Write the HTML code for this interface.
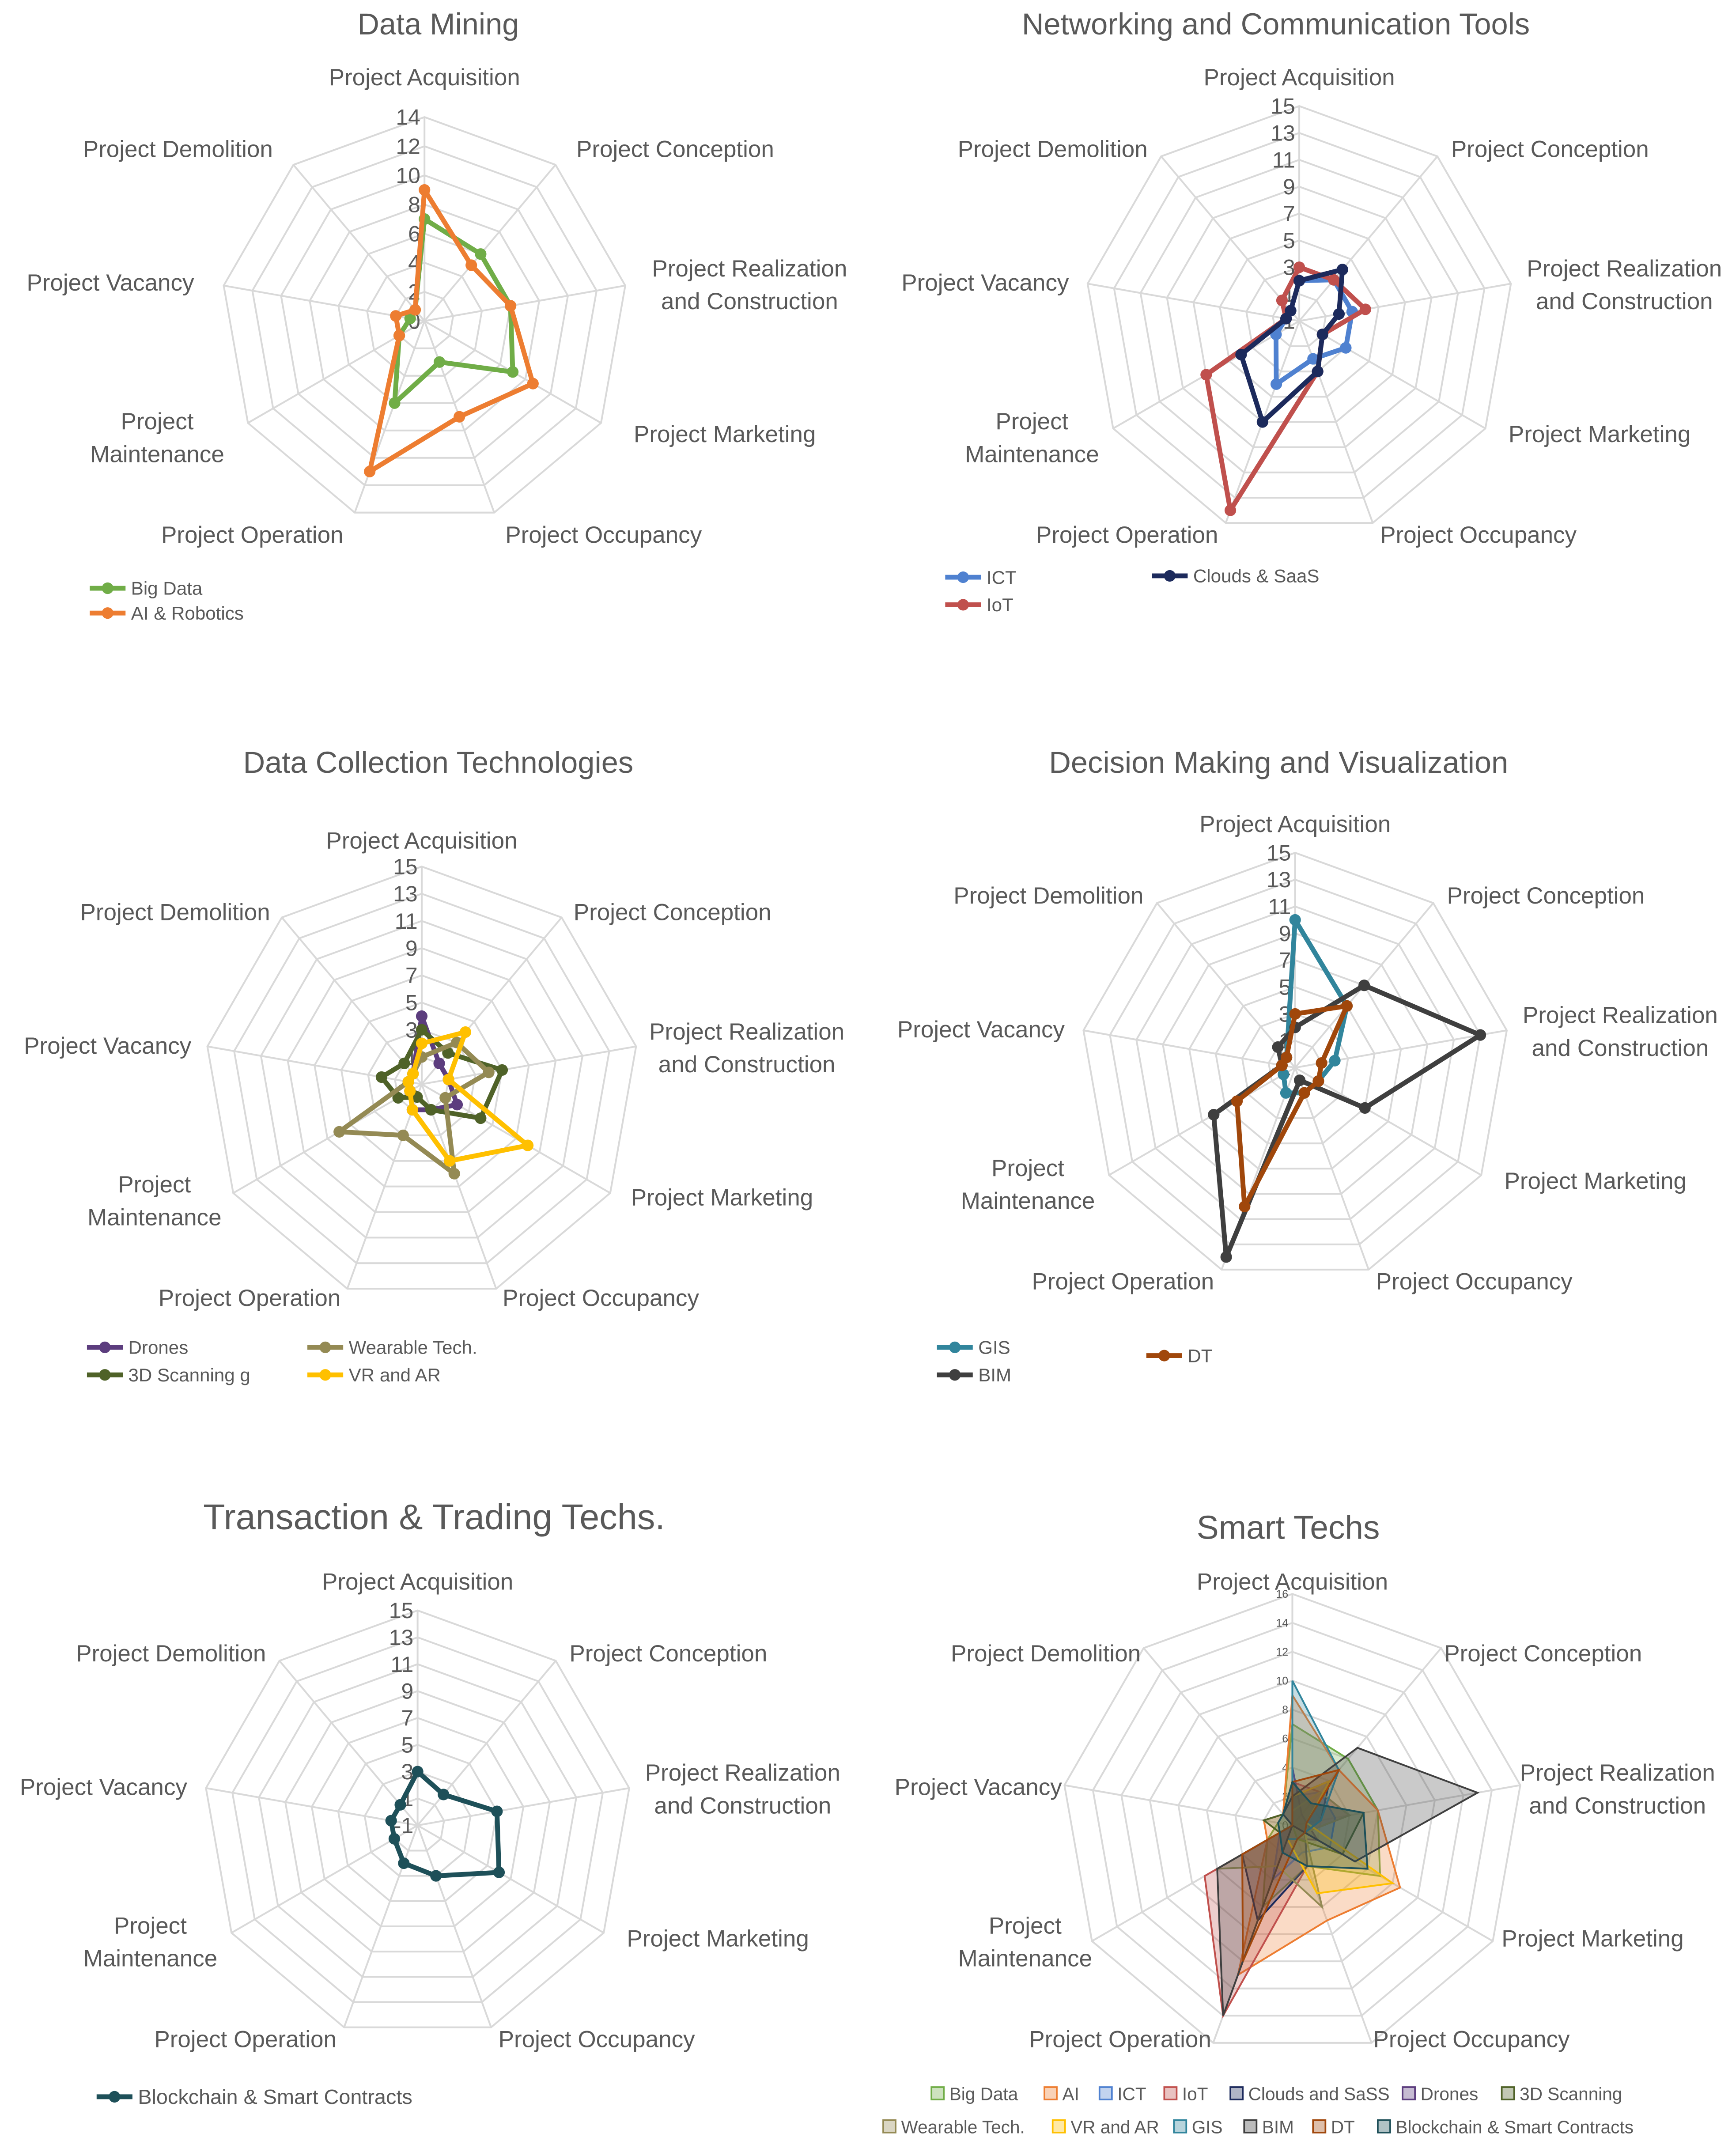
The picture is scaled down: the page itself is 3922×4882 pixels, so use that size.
<!DOCTYPE html>
<html><head><meta charset="utf-8">
<style>
html,body{margin:0;padding:0;background:#fff;}
svg{display:block;font-family:"Liberation Sans",sans-serif;}
</style></head>
<body>
<svg id="root" width="3922" height="4882" viewBox="0 0 1257 1565" xmlns="http://www.w3.org/2000/svg"></svg>
<script>
const categories = ["Project Acquisition","Project Conception","Project Realization|and Construction","Project Marketing","Project Occupancy","Project Operation","Project|Maintenance","Project Vacancy","Project Demolition"];

const bigData    = [7,6,6,7,3,6,2,1,1];
const aiRobotics = [9,5,6,8.6,7,11,2,2,1];
const ict        = [2,3,3,3,2,4,1,0,0];
const iot        = [3,3,4,1,3,14,7,0,1];
const clouds     = [2,4,2,1,3,7,4,0,0];
const drones     = [4,1,1,2,1,1,0,0,0];
const wearable   = [1,3,4,1,6,3,6,0,0];
const scanning3d = [3,2,5,4,1,0,1,2,1];
const vrAr       = [2,4,1,8,5,1,0,0,0];
const gis        = [10,5,2,1,1,1,0,0,0];
const bim        = [2,7,13,5,0,14,6,0,1];
const dt         = [3,5,1,1,1,10,4,0,0];
const blockchain = [3,2,5,6,3,2,1,1,1];

const tickLabels1 = ["0","2","4","6","8","10","12","14"];
const tickLabelsOdd = ["-1","1","3","5","7","9","11","13","15"];
const tickLabels6 = ["0","2","4","6","8","10","12","14","16"];

const svg = document.getElementById('root');
const NS = "http://www.w3.org/2000/svg";
function mk(tag, attrs, parent){
  const e = document.createElementNS(NS, tag);
  for (const k in attrs) e.setAttribute(k, attrs[k]);
  (parent||svg).appendChild(e);
  return e;
}
const labelOff = [[0,-177],[182,-125],[236,-29],[218,82],[130,155],[-125,155],[-194,82],[-228,-28],[-179,-125]];

function radar(cfg){
  const g = mk('g', {});
  
  
  const {cx,cy,R,min,max,step} = cfg;
  const ang = i => (-90 + i*40) * Math.PI/180;
  const rad = v => (v-min)/(max-min)*R;
  const pt = (i,v) => [cx + rad(v)*Math.cos(ang(i)), cy + rad(v)*Math.sin(ang(i))];
  // grid rings
  for (let v=min+step; v<=max+1e-9; v+=step){
    const pts = categories.map((_,i)=>pt(i,v).join(',')).join(' ');
    const r = mk('polygon',{points:pts,fill:'none',stroke:'#d9d9d9','stroke-width':1.3},g);
    
    
  }
  categories.forEach((c,i)=>{
    const [x,y] = pt(i,max);
    const l = mk('line',{x1:cx,y1:cy,x2:x,y2:y,stroke:'#d9d9d9','stroke-width':1.3},g);
    
    
    const parts = c.split('|');
    const fs = cfg.fs||17;
    const t = mk('text',{x:cx+labelOff[i][0]*cfg.ls,y:cy+labelOff[i][1]*cfg.ls,'text-anchor':'middle','font-size':fs,fill:'#595959'},g);
    
    
    parts.forEach((p,k)=>{
      const ts = mk('tspan',{x:cx+labelOff[i][0]*cfg.ls,dy: k===0 ? (parts.length>1? -fs*0.55+fs*0.35 : fs*0.35) : fs*1.4},t);
      ts.textContent = p;
    });
  });
  // tick labels
  cfg.ticks.forEach((tl,k)=>{
    const v = min + k*step;
    const t = mk('text',{x:cx-3,y:cy-rad(v)+(cfg.tfs||16)*0.35,'text-anchor':'end','font-size':cfg.tfs||16,fill:'#595959'},g);
    
    
    t.textContent = tl;
  });
  // title
  const tt = mk('text',{x:cfg.tx,y:cfg.ty,'text-anchor':'middle','font-size':cfg.tsz||22,fill:'#595959'},g);
  
  
  tt.textContent = cfg.title;
  // series
  cfg.series.forEach(s=>{
    const pts = s.data.map((v,i)=>pt(i,v).join(',')).join(' ');
    if (cfg.filled){
      const p = mk('polygon',{points:pts,fill:s.color,'fill-opacity':0.28,stroke:s.color,'stroke-width':1.3},g);
      
      
    } else {
      const p = mk('polygon',{points:pts,fill:'none',stroke:s.color,'stroke-width':3.5,'stroke-linejoin':'round'},g);
      
      
      s.data.forEach((v,i)=>{
        const [x,y]=pt(i,v);
        const c = mk('circle',{cx:x,cy:y,r:4.2,fill:s.color},g);
        
        
      });
    }
    // legend
    const lg = mk('g',{},g);
    
    
    if (cfg.filled){
      mk('rect',{x:s.lx,y:s.ly-5,width:9,height:9,fill:s.color,'fill-opacity':0.35,stroke:s.color,'stroke-width':1.2},lg);
      const t = mk('text',{x:s.lx+13,y:s.ly+4.5,'font-size':13,fill:'#595959'},lg);
      t.textContent = s.label;
    } else {
      const lfs = cfg.lfs||13.5;
      mk('line',{x1:s.lx,y1:s.ly,x2:s.lx+26,y2:s.ly,stroke:s.color,'stroke-width':3.5},lg);
      mk('circle',{cx:s.lx+13,cy:s.ly,r:4.2,fill:s.color},lg);
      const t = mk('text',{x:s.lx+30,y:s.ly+lfs*0.35,'font-size':lfs,fill:'#595959'},lg);
      t.textContent = s.label;
    }
  });
}

const C = {bd:'#70ad47',ai:'#ed7d31',ict:'#4f81d0',iot:'#c0504d',cl:'#1c2a5c',dr:'#5c3d7e',sc:'#4f6228',we:'#948a54',vr:'#ffc000',gis:'#31859c',bim:'#3f3f3f',dt:'#a0470b',bc:'#1e5059'};

radar({name:'data-mining-chart',title:'Data Mining',tx:318,ty:25,cx:308,cy:233,R:148,min:0,max:14,step:2,ls:1,ticks:tickLabels1,
  series:[{label:'Big Data',data:bigData,color:C.bd,lx:65,ly:427},{label:'AI & Robotics',data:aiRobotics,color:C.ai,lx:65,ly:445}]});
radar({name:'networking-chart',title:'Networking and Communication Tools',tx:926,ty:25,cx:943,cy:233,R:156,min:-1,max:15,step:2,ls:1,ticks:tickLabelsOdd,
  series:[{label:'ICT',data:ict,color:C.ict,lx:686,ly:419},{label:'IoT',data:iot,color:C.iot,lx:686,ly:439},{label:'Clouds & SaaS',data:clouds,color:C.cl,lx:836,ly:418}]});
radar({name:'data-collection-chart',title:'Data Collection Technologies',tx:318,ty:561,cx:306,cy:787,R:158,min:-1,max:15,step:2,ls:1,ticks:tickLabelsOdd,
  series:[{label:'Drones',data:drones,color:C.dr,lx:63,ly:978},{label:'3D Scanning g',data:scanning3d,color:C.sc,lx:63,ly:998},{label:'Wearable Tech.',data:wearable,color:C.we,lx:223,ly:978},{label:'VR and AR',data:vrAr,color:C.vr,lx:223,ly:998}]});
radar({name:'decision-making-chart',title:'Decision Making and Visualization',tx:928,ty:561,cx:940,cy:775,R:156,min:-1,max:15,step:2,ls:1,ticks:tickLabelsOdd,
  series:[{label:'GIS',data:gis,color:C.gis,lx:680,ly:978},{label:'BIM',data:bim,color:C.bim,lx:680,ly:998},{label:'DT',data:dt,color:C.dt,lx:832,ly:984}]});
radar({name:'transaction-chart',title:'Transaction & Trading Techs.',tx:315,ty:1110,tsz:26,cx:303,cy:1325,R:156,min:-1,max:15,step:2,ls:1,ticks:tickLabelsOdd,lfs:15,
  series:[{label:'Blockchain & Smart Contracts',data:blockchain,color:C.bc,lx:70,ly:1522}]});
radar({name:'smart-techs-chart',title:'Smart Techs',tx:935,ty:1117,tsz:24,cx:938,cy:1325,R:168,min:0,max:16,step:2,ls:1,ticks:tickLabels6,tfs:8,filled:true,
  series:[
    {label:'Big Data',data:bigData,color:C.bd,lx:676,ly:1520},
    {label:'AI',data:aiRobotics,color:C.ai,lx:758,ly:1520},
    {label:'ICT',data:ict,color:C.ict,lx:798,ly:1520},
    {label:'IoT',data:iot,color:C.iot,lx:845,ly:1520},
    {label:'Clouds and SaSS',data:clouds,color:C.cl,lx:893,ly:1520},
    {label:'Drones',data:drones,color:C.dr,lx:1018,ly:1520},
    {label:'3D Scanning',data:scanning3d,color:C.sc,lx:1090,ly:1520},
    {label:'Wearable Tech.',data:wearable,color:C.we,lx:641,ly:1544},
    {label:'VR and AR',data:vrAr,color:C.vr,lx:764,ly:1544},
    {label:'GIS',data:gis,color:C.gis,lx:852,ly:1544},
    {label:'BIM',data:bim,color:C.bim,lx:903,ly:1544},
    {label:'DT',data:dt,color:C.dt,lx:953,ly:1544},
    {label:'Blockchain & Smart Contracts',data:blockchain,color:C.bc,lx:1000,ly:1544}
  ]});
</script>
</body></html>
